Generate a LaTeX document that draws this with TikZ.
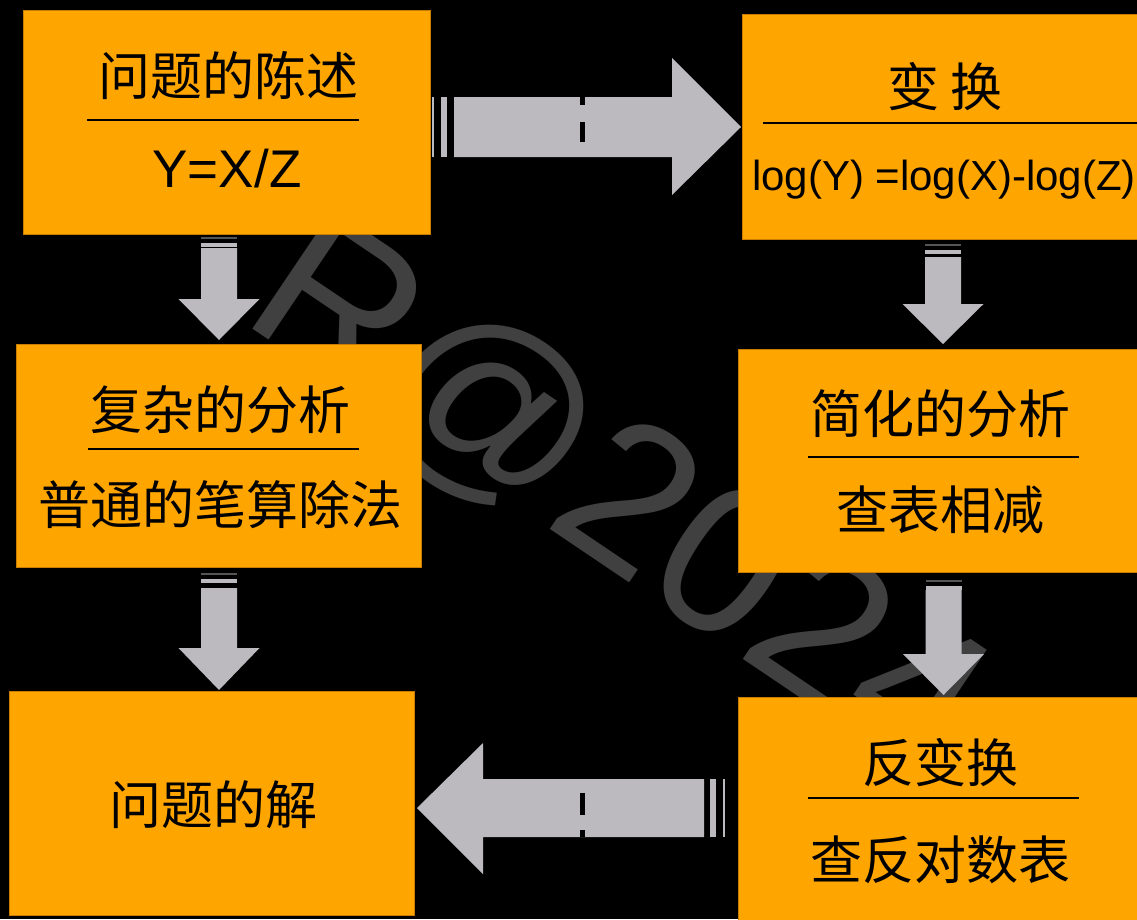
\documentclass[tikz,border=0pt]{standalone}
\usepackage{fontspec}
\setmainfont{Liberation Sans}
\newfontfamily\cjk{Noto Sans CJK SC}
\definecolor{boxorange}{RGB}{255,165,0}
\definecolor{boxedge}{RGB}{200,125,0}
\definecolor{arrgray}{RGB}{188,186,191}
\definecolor{stripedark}{RGB}{85,85,88}
\definecolor{wmgray}{RGB}{64,64,64}
\tikzset{
  stagebox/.style={draw=boxedge, line width=1pt, fill=boxorange, anchor=north west, inner sep=0pt},
  cjktext/.style={font=\cjk\fontsize{52}{52}\selectfont, text=black, inner sep=0pt, anchor=center},
  latintext/.style={font=\fontsize{53}{53}\selectfont, text=black, inner sep=0pt, anchor=center},
  divider/.style={draw=black, line width=2pt},
  blockarrow/.style={fill=arrgray},
}
\newcommand{\dnarrow}[6]{%
  \fill[stripedark] ({#1-18},#2) rectangle ({#1+18},{#2+2});
  \fill[arrgray] ({#1-18},#3) rectangle ({#1+18},{#3+4});
  \fill[blockarrow] ({#1-18},#4) -- ({#1+18},#4) -- ({#1+18},#5) -- ({#1+40.5},#5) -- (#1,#6) -- ({#1-40.5},#5) -- ({#1-18},#5) -- cycle;
}
\begin{document}
\begin{tikzpicture}[x=1pt,y=-1pt]
\useasboundingbox (0,0) rectangle (1137,919);
\clip (0,0) rectangle (1137,919);
\fill[black] (0,0) rectangle (1137,919);
% watermark
\node[rotate=-34, text=wmgray, inner sep=0pt, font=\fontsize{210}{210}\selectfont] (wm) at (618,501) {R@2024};
% boxes
\node[stagebox, minimum width=407pt, minimum height=224pt] (b1) at (23,10) {};
\node[stagebox, minimum width=420pt, minimum height=225pt] (b2) at (742,14) {};
\node[stagebox, minimum width=405pt, minimum height=223pt] (b3) at (16,344) {};
\node[stagebox, minimum width=420pt, minimum height=223pt] (b4) at (738,349) {};
\node[stagebox, minimum width=405pt, minimum height=224pt] (b5) at (9,691) {};
\node[stagebox, minimum width=420pt, minimum height=240pt] (b6) at (738,697) {};
% texts
\node[cjktext] (t1) at (228,76) {问题的陈述};
\draw[divider] (87,120) -- (359,120);
\node[latintext] (m1) at (227,169) {Y=X/Z};
\node[cjktext] (t2) at (945,87) {变 换};
\draw[divider] (763,123) -- (1140,123);
\node[latintext, font=\fontsize{42}{42}\selectfont] (m2) at (944,180) {log(Y) =log(X)-log(Z)};
\node[cjktext] (t3) at (220,410) {复杂的分析};
\draw[divider] (88,449) -- (359,449);
\node[cjktext] (m3) at (220,505) {普通的笔算除法};
\node[cjktext] (t4) at (940,414) {简化的分析};
\draw[divider] (808,457) -- (1079,457);
\node[cjktext] (m4) at (940,510) {查表相减};
\node[cjktext] (t5) at (213,805) {问题的解};
\node[cjktext] (t6) at (940,763) {反变换};
\draw[divider] (808,798) -- (1079,798);
\node[cjktext] (m6) at (940,860) {查反对数表};
% right arrow b1 -> b2
\fill[arrgray] (432,97) rectangle (434,157);
\fill[arrgray] (441,97) rectangle (447,157);
\fill[blockarrow] (454,97) -- (672,97) -- (672,58) -- (741,127) -- (672,195) -- (672,157) -- (454,157) -- cycle;
\fill[black] (580,97) rectangle (585,105);
\fill[black] (580,122) rectangle (585,142);
% left arrow b6 -> b5
\fill[arrgray] (723,779) rectangle (725,837);
\fill[arrgray] (710,779) rectangle (716,837);
\fill[blockarrow] (704,779) -- (483,779) -- (483,743) -- (417,808) -- (483,874) -- (483,837) -- (704,837) -- cycle;
\fill[black] (580,793) rectangle (585,815);
\fill[black] (580,830) rectangle (585,837);
% down arrows
\dnarrow{219}{237}{243}{248}{299}{340}
\dnarrow{219}{573}{579}{588}{648}{690}
\dnarrow{943}{244}{250}{257}{304}{344}
\dnarrow{943.5}{580}{586}{590}{654}{695}
\end{tikzpicture}
\end{document}
